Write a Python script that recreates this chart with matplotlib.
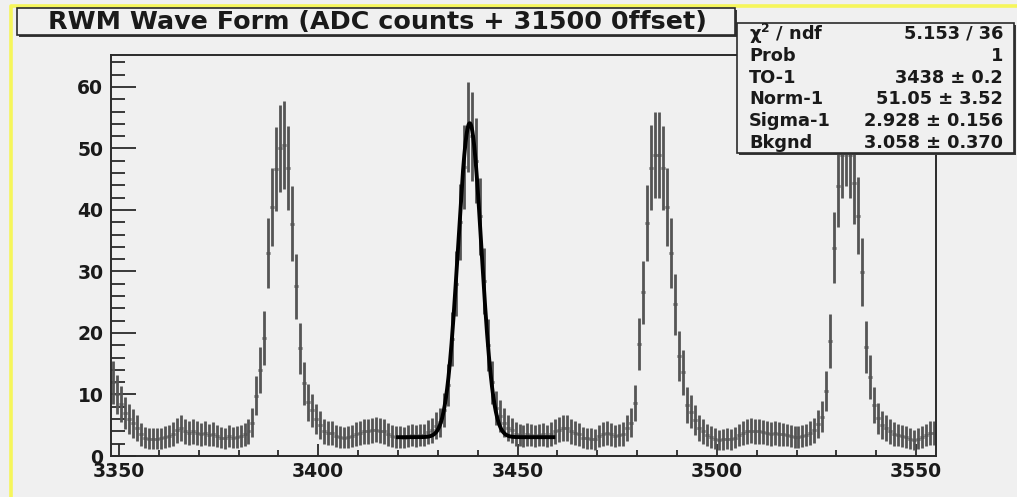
import numpy as np
import matplotlib.pyplot as plt
from matplotlib.patches import Rectangle
from matplotlib.lines import Line2D
from matplotlib.ticker import MultipleLocator

# histogram contents, 1-unit bins starting at 3348
bin_start = 3348
counts = [
    12, 10, 8.5, 7, 6, 5.3, 4.6, 3.5, 3, 2.8,
    2.8, 2.8, 2.9, 3.1, 3.3, 3.6, 4.2, 4.5, 4, 3.8,
    4, 3.7, 3.5, 3.7, 3.4, 3.6, 3.3, 3, 2.9, 3.2,
    3, 3.1, 3.2, 3.5, 4, 5.4, 9.8, 14, 19.2, 33,
    40.5, 46.7, 50, 50.6, 46.8, 37.8, 27.6, 17.5, 11.8, 8.7,
    7.4, 6, 5, 4, 3.8, 3.7, 3.2, 3.1, 3, 3.1,
    3.3, 3.6, 3.8, 4, 4, 4.2, 4.3, 4.1, 4, 3.5,
    3.2, 3.1, 3.1, 3, 3.3, 3.4, 3.2, 3.4, 3.4, 3.9,
    4.2, 4.9, 5.5, 7.5, 11.5, 19, 28, 38, 47, 53.5,
    52, 48, 39, 28.5, 18, 12, 7.8, 6.5, 5.4, 4.6,
    4.2, 3.6, 3.4, 3.3, 3.5, 3.4, 3.2, 3.4, 3.5, 3.3,
    3.6, 4, 4.3, 4.6, 4.5, 4, 3.7, 3.5, 3, 2.9,
    2.8, 2.7, 3.2, 3.6, 3.7, 3.5, 3.3, 3.4, 3.6, 4.5,
    5.4, 8.6, 18.2, 26.6, 37.9, 46.9, 48.9, 49, 46.8, 40.5,
    33, 24.7, 16.3, 13.6, 8.3, 7.2, 5.9, 4.5, 4, 3.4,
    3.1, 2.8, 2.6, 2.7, 2.8, 2.7, 3, 3.4, 3.8, 4,
    4.1, 4, 4, 3.9, 3.7, 3.6, 3.7, 3.6, 3.5, 3.4,
    3.2, 3.1, 3.1, 3.3, 3.4, 3.7, 4.2, 5.2, 6.4, 10.5,
    18.7, 33.9, 43.9, 49, 51, 49, 44.4, 39.1, 29.9, 17.7,
    12.8, 8.3, 6.1, 5, 4.5, 4, 3.6, 3.4, 3.2, 3.1,
    2.8, 2.6, 2.8, 3.1, 3.4, 3.7, 3.7,
]

# gaussian + flat background fit, parameters from the stats box
fit_to, fit_norm, fit_sigma, fit_bkg = 3438, 51.05, 2.928, 3.058
fit_lo, fit_hi = 3420, 3459

title = 'RWM Wave Form (ADC counts + 31500 0ffset)'
stat_names = [r'$\chi^{2}$ / ndf', 'Prob', 'TO-1', 'Norm-1', 'Sigma-1', 'Bkgnd']
stat_values = ['5.153 / 36', '1', '3438 ± 0.2', '51.05 ± 3.52',
               '2.928 ± 0.156', '3.058 ± 0.370']

plt.rcParams['font.family'] = ['DejaVu Sans']
plt.rcParams['font.weight'] = 'bold'
plt.rcParams['mathtext.default'] = 'regular'

W, H = 1017, 497
bg = '#f0f0f0'
frame = '#2a2a2a'


def fx(x):
    return x / W


def fy(y):
    return 1 - y / H


fig = plt.figure(figsize=(W / 100, H / 100), dpi=100, facecolor=bg)
ax = fig.add_axes([fx(111), fy(456), fx(936 - 111), (456 - 55) / H])
ax.set_facecolor(bg)

counts = np.array(counts)
centers = bin_start + 0.5 + np.arange(len(counts))
ax.errorbar(centers, counts, yerr=np.sqrt(counts), xerr=0.5, fmt='none',
            ecolor='#555555', elinewidth=2.0, capsize=0, zorder=2)

xf = np.linspace(fit_lo, fit_hi, 500)
yf = fit_norm * np.exp(-0.5 * ((xf - fit_to) / fit_sigma) ** 2) + fit_bkg
ax.plot(xf, yf, color='black', lw=2.8, zorder=3)

ax.set_xlim(3348, 3555)
ax.set_ylim(0, 65.2)
ax.set_xticks(np.arange(3350, 3551, 50))
ax.set_yticks(np.arange(0, 61, 10))
ax.xaxis.set_minor_locator(MultipleLocator(10))
ax.yaxis.set_minor_locator(MultipleLocator(2))
ax.tick_params(axis='y', which='major', direction='in', length=18, width=1.3,
               color=frame, labelsize=13.5, pad=5.5)
ax.tick_params(axis='y', which='minor', direction='in', length=10, width=1.3,
               color=frame)
ax.tick_params(axis='x', which='major', direction='in', length=8.5, width=1.3,
               color=frame, labelsize=13.5, pad=4)
ax.tick_params(axis='x', which='minor', direction='in', length=4.5, width=1.3,
               color=frame)
for lab in ax.get_xticklabels() + ax.get_yticklabels():
    lab.set_fontweight('bold')
    lab.set_color('#1a1a1a')
for s in ax.spines.values():
    s.set_color(frame)
    s.set_linewidth(1.4)

# yellow canvas border (left and top)
fig.add_artist(Line2D([fx(11), fx(11), 1], [0, fy(6), fy(6)],
                      transform=fig.transFigure, color='#f6f65a', lw=2.6))


def pave(x0, y0, x1, y1):
    # box with ROOT-style drop shadow
    fig.add_artist(Rectangle((fx(x0 + 2), fy(y1 + 2)), fx(x1 - x0), (y1 - y0) / H,
                             transform=fig.transFigure, facecolor='#3a3a3a',
                             edgecolor='none', zorder=4))
    fig.add_artist(Rectangle((fx(x0), fy(y1)), fx(x1 - x0), (y1 - y0) / H,
                             transform=fig.transFigure, facecolor=bg,
                             edgecolor=frame, lw=1.2, zorder=5))


pave(17, 8, 735, 35)
fig.text(fx(377), fy(22), title, ha='center', va='center', fontsize=18.3,
         fontweight='bold', color='#1a1a1a', zorder=6)

pave(737, 23, 1014, 153)
for i, (name, val) in enumerate(zip(stat_names, stat_values)):
    y = fy(34 + 21.8 * i)
    fig.text(fx(749), y, name, ha='left', va='center', fontsize=12.8,
             fontweight='bold', color='#1a1a1a', zorder=6)
    fig.text(fx(1003), y, val, ha='right', va='center', fontsize=12.8,
             fontweight='bold', color='#1a1a1a', zorder=6)

fig.savefig('out.png', dpi=100, facecolor=bg)
